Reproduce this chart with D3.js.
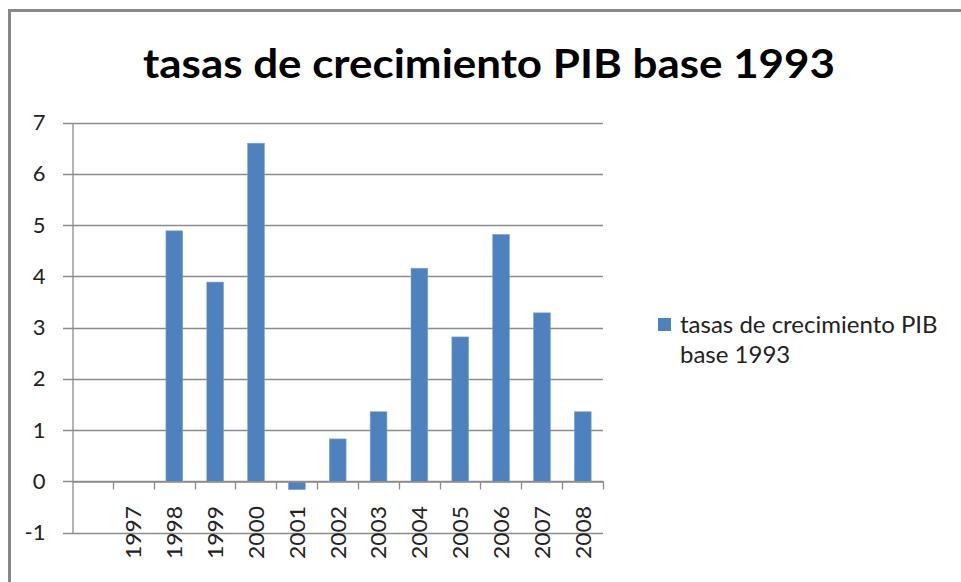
<!DOCTYPE html>
<html>
<head>
<meta charset="utf-8">
<script src="https://cdn.jsdelivr.net/npm/d3@7"></script>
<style>
  body { margin: 0; background: #fff; }
  svg { display: block; }
</style>
</head>
<body>
<svg></svg>
<script>
// datos (la primera categoría va vacía)
var years = ["", "1997", "1998", "1999", "2000", "2001", "2002", "2003", "2004", "2005", "2006", "2007", "2008"];
var tasas = [null, 0, 4.89, 3.89, 6.6, -0.16, 0.83, 1.36, 4.16, 2.82, 4.82, 3.29, 1.36];
var yTicks = [-1, 0, 1, 2, 3, 4, 5, 6, 7];
var titulo = "tasas de crecimiento PIB base 1993";
var serie = ["tasas de crecimiento PIB", "base 1993"];

var data = years.map(function(y, i) { return { year: y, value: tasas[i] }; });

var svgWidth = 961, svgHeight = 582;
var font = "Lato, 'Open Sans', sans-serif";

var svg = d3.select("svg")
    .attr("width", svgWidth)
    .attr("height", svgHeight);

// marco del gráfico
svg.append("rect")
    .attr("x", 9.5).attr("y", 10.5)
    .attr("width", 1000).attr("height", 1000)
    .attr("fill", "none")
    .attr("stroke", "#888")
    .attr("stroke-width", 3);

svg.append("text")
    .attr("x", 489).attr("y", 78)
    .attr("text-anchor", "middle")
    .attr("font-family", font)
    .attr("font-weight", "bold")
    .attr("font-size", 40)
    .attr("textLength", 692)
    .attr("lengthAdjust", "spacingAndGlyphs")
    .text(titulo);

var left = 72, right = 603;
var x = d3.scaleBand().domain(years).range([left, right]).paddingInner(0).paddingOuter(0);
var y = d3.scaleLinear().domain([-1, 7]).range([532.7, 122.7]);

// rejilla horizontal
svg.append("g")
    .selectAll("line")
    .data(yTicks)
    .enter().append("line")
    .attr("x1", 63).attr("x2", right)
    .attr("y1", function(d) { return Math.round(y(d)) + 0.5; })
    .attr("y2", function(d) { return Math.round(y(d)) + 0.5; })
    .attr("stroke", "#8c8c8c")
    .attr("stroke-width", 1.3);

// eje Y (con guion normal en los negativos)
var gy = svg.append("g")
    .attr("transform", "translate(" + (left + 0.5) + ",0)")
    .call(d3.axisLeft(y).tickValues(yTicks).tickSize(0).tickPadding(27)
        .tickFormat(function(d) { return String(d); }));
gy.select(".domain").attr("stroke", "#8c8c8c").attr("stroke-width", 1.3);
gy.selectAll("text")
    .attr("font-family", font)
    .attr("font-size", 22)
    .attr("fill", "#222");

// barras
svg.append("g")
    .selectAll("rect")
    .data(data.filter(function(d) { return d.value !== null; }))
    .enter().append("rect")
    .attr("x", function(d) { return x(d.year) + x.bandwidth() * 0.3; })
    .attr("width", x.bandwidth() * 0.41)
    .attr("y", function(d) { return y(Math.max(0, d.value)); })
    .attr("height", function(d) { return Math.abs(y(d.value) - y(0)); })
    .attr("fill", "#4f81bd")
    .attr("stroke", "#7ea3d3")
    .attr("stroke-width", 0.6);

// eje X sobre el cero
var gx = svg.append("g")
    .attr("transform", "translate(0," + (Math.round(y(0)) + 0.5) + ")")
    .call(d3.axisBottom(x).tickSize(0).tickFormat(""));
gx.select(".domain").attr("stroke", "#8c8c8c").attr("stroke-width", 1.3);

// marcas de categoría
svg.append("g")
    .selectAll("line")
    .data(years.slice(1))
    .enter().append("line")
    .attr("x1", function(d) { return Math.round(x(d)) + 0.5; })
    .attr("x2", function(d) { return Math.round(x(d)) + 0.5; })
    .attr("y1", y(0)).attr("y2", y(0) + 8)
    .attr("stroke", "#8c8c8c")
    .attr("stroke-width", 1.3);
svg.append("line")
    .attr("x1", right + 0.5).attr("x2", right + 0.5)
    .attr("y1", y(0)).attr("y2", y(0) + 8)
    .attr("stroke", "#8c8c8c")
    .attr("stroke-width", 1.3);

// etiquetas de años giradas
svg.append("g")
    .selectAll("text")
    .data(years.slice(1))
    .enter().append("text")
    .attr("transform", function(d) { return "translate(" + (x(d) + x.bandwidth() / 2 + 8) + ",506) rotate(-90)"; })
    .attr("text-anchor", "end")
    .attr("font-family", font)
    .attr("font-size", 22)
    .attr("textLength", 53)
    .attr("lengthAdjust", "spacingAndGlyphs")
    .attr("fill", "#222")
    .text(function(d) { return d; });

// leyenda
svg.append("rect")
    .attr("x", 658).attr("y", 318)
    .attr("width", 13).attr("height", 13)
    .attr("fill", "#4f81bd");
svg.append("g")
    .selectAll("text")
    .data(serie)
    .enter().append("text")
    .attr("x", 680)
    .attr("y", function(d, i) { return 333 + i * 30; })
    .attr("font-family", font)
    .attr("font-size", 24)
    .attr("fill", "#222")
    .text(function(d) { return d; });
</script>
</body>
</html>
